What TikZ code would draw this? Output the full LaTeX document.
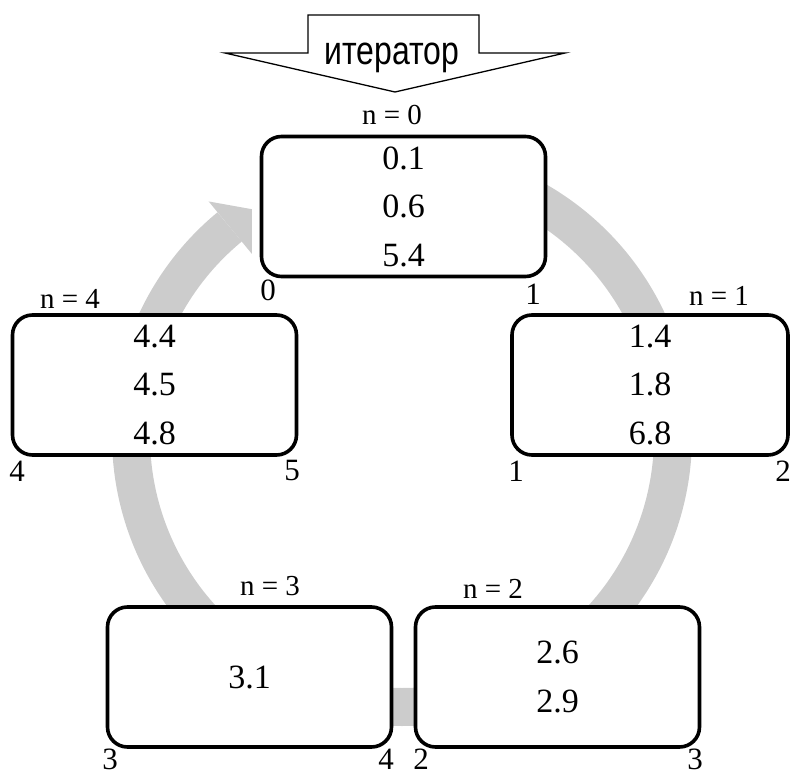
\documentclass[tikz,border=0pt]{standalone}
\usepackage{fontspec}
\usepackage{graphicx}
\setmainfont{Liberation Serif}
\newfontfamily\arialfont{Liberation Sans}
\usetikzlibrary{calc}
\tikzset{
  box/.style={draw, line width=3.6pt, rounded corners=20pt, fill=white,
    minimum width=284pt, minimum height=140pt, inner sep=0pt, align=center,
    font=\fontsize{34}{48.5}\selectfont},
  lab/.style={inner sep=0pt, font=\fontsize{29}{30}\selectfont},
  cnum/.style={inner sep=0pt, font=\fontsize{31}{32}\selectfont},
  ring/.style={draw=gray!40, line width=38pt},
  ringhead/.style={fill=gray!40},
  bigarrow/.style={draw, line width=1.3pt, fill=white, line join=miter},
  arrowtext/.style={inner sep=0pt, anchor=base, font=\arialfont\fontsize{40}{44}\selectfont}
}
\begin{document}
\begin{tikzpicture}[x=1pt, y=-1pt]
\useasboundingbox (0,0) rectangle (790,775);
% gray circular arrow
\coordinate (c) at (402,436);
\draw[ring] (c) ++(-90:271) arc[start angle=-90, end angle=230.5, radius=271];
\fill[ringhead] ($(c)+(230.5:304)$) -- ($(c)+(236.5:272)$) -- ($(c)+(230.5:236)$) -- cycle;
% boxes
\node[box] (b0) at (403.5,206.5) {0.1\\0.6\\5.4};
\node[box, minimum width=276pt] (b1) at (650,385) {1.4\\1.8\\6.8};
\node[box] (b4) at (154.5,385) {4.4\\4.5\\4.8};
\node[box] (b2) at (557.5,677) {2.6\\2.9};
\node[box] (b3) at (249.5,677) {3.1};
% n labels
\node[lab] (n0) at (392,115) {n = 0};
\node[lab] (n1) at (719,296) {n = 1};
\node[lab] (n2) at (493,589) {n = 2};
\node[lab] (n3) at (270,586) {n = 3};
\node[lab] (n4) at (70,299) {n = 4};
% corner numbers
\node[cnum] (c0a) at (268,290) {0};
\node[cnum] (c0b) at (533,294) {1};
\node[cnum] (c1a) at (516,471) {1};
\node[cnum] (c1b) at (783,471) {2};
\node[cnum] (c4a) at (17,471) {4};
\node[cnum] (c4b) at (292,471) {5};
\node[cnum] (c2a) at (421,759) {2};
\node[cnum] (c2b) at (695,759) {3};
\node[cnum] (c3a) at (110,759) {3};
\node[cnum] (c3b) at (386,759) {4};
% iterator block arrow
\draw[bigarrow] (225,53) -- (308,53) -- (308,15) -- (479,15) -- (479,53) -- (565,53) -- (395,92) -- cycle;
\node[arrowtext] (it) at (392,65) {\scalebox{0.8}[1]{итератор}};
\end{tikzpicture}
\end{document}
